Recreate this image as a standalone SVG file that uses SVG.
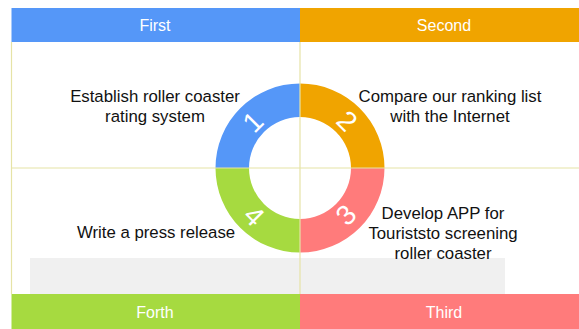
<svg xmlns="http://www.w3.org/2000/svg" width="579" height="329" viewBox="0 0 579 329">
<style>
.hd{font-family:"Liberation Sans",Arial,sans-serif;font-size:16px;fill:#ffffff;text-anchor:middle}
.lb{font-family:"Liberation Sans",Arial,sans-serif;font-size:16.8px;fill:#111111;text-anchor:middle}
.num{font-family:"Liberation Sans",Arial,sans-serif;font-size:28px;fill:#ffffff;text-anchor:middle;dominant-baseline:central}
.ln{stroke:#e6e3a6;stroke-width:1.2;fill:none}
</style>
<rect x="0" y="0" width="579" height="329" fill="#ffffff"/>
<rect x="30" y="258" width="475" height="36" fill="#f0f0f0"/>
<g id="header-first"><rect x="11.5" y="8" width="288.5" height="34" fill="#5597f8"/><text class="hd" x="155" y="31">First</text></g>
<g id="header-second"><rect x="300" y="8" width="279" height="34" fill="#f0a400"/><text class="hd" x="444" y="31">Second</text></g>
<g id="header-forth"><rect x="11.5" y="294" width="288.5" height="35" fill="#a6da40"/><text class="hd" x="155" y="318">Forth</text></g>
<g id="header-third"><rect x="300" y="294" width="279" height="35" fill="#ff7b7b"/><text class="hd" x="444" y="318">Third</text></g>
<g id="ring">
<path d="M215.5 168 A84.5 84.5 0 0 1 300 83.5 L300 117 A51 51 0 0 0 249 168 Z" fill="#5597f8"/>
<path d="M300 83.5 A84.5 84.5 0 0 1 384.5 168 L351 168 A51 51 0 0 0 300 117 Z" fill="#f0a400"/>
<path d="M384.5 168 A84.5 84.5 0 0 1 300 252.5 L300 219 A51 51 0 0 0 351 168 Z" fill="#ff7b7b"/>
<path d="M300 252.5 A84.5 84.5 0 0 1 215.5 168 L249 168 A51 51 0 0 0 300 219 Z" fill="#a6da40"/>
</g>
<g id="connectors">
<line class="ln" x1="11.5" y1="42" x2="11.5" y2="294" stroke="#d6dcb4"/>
<line class="ln" x1="300" y1="42" x2="300" y2="294"/>
<line class="ln" x1="11.5" y1="168" x2="579" y2="168"/>
</g>
<g id="num1"><text class="num" transform="translate(253,122) rotate(-45)">1</text></g>
<g id="num2"><text class="num" transform="translate(347,121) rotate(45)">2</text></g>
<g id="num3"><text class="num" transform="translate(346,215) rotate(-45)">3</text></g>
<g id="num4"><text class="num" transform="translate(254,216) rotate(45)">4</text></g>
<g id="label1"><text class="lb" x="155" y="102">Establish roller coaster</text><text class="lb" x="155" y="122">rating system</text></g>
<g id="label2"><text class="lb" x="450" y="102">Compare our ranking list</text><text class="lb" x="450" y="122">with the Internet</text></g>
<g id="label3"><text class="lb" x="443" y="219">Develop APP for</text><text class="lb" x="443" y="239">Touriststo screening</text><text class="lb" x="443" y="259">roller coaster</text></g>
<g id="label4"><text class="lb" x="156" y="238">Write a press release</text></g>
</svg>
